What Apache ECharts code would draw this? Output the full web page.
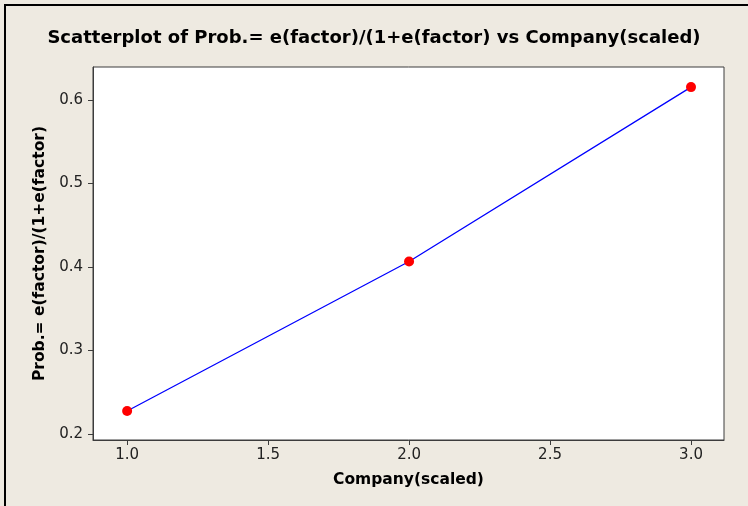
<!DOCTYPE html>
<html>
<head>
<meta charset="utf-8">
<script src="https://cdn.jsdelivr.net/npm/echarts@6/dist/echarts.min.js"></script>
<style>
html,body{margin:0;padding:0;background:#EEEAE1;}
#c{width:748px;height:506px;}
</style>
</head>
<body>
<div id="c"></div>
<script>
const companyScaled = [1.0, 2.0, 3.0];
const probValues = [0.2275, 0.4066, 0.6154];
const xTicks = [1.0, 1.5, 2.0, 2.5, 3.0];
const yTicks = [0.2, 0.3, 0.4, 0.5, 0.6];

const titleText = 'Scatterplot of Prob.= e(factor)/(1+e(factor) vs Company(scaled)';
const xName = 'Company(scaled)';
const yName = 'Prob.= e(factor)/(1+e(factor)';

const chart = echarts.init(document.getElementById('c'), null, {renderer: 'canvas'});
const font = 'DejaVu Sans';
chart.setOption({
  backgroundColor: '#EEEAE1',
  animation: false,
  title: {
    text: titleText, left: 'center', top: 24,
    textStyle: {fontFamily: font, fontWeight: 'bold', fontSize: 18, color: '#000'}
  },
  grid: {
    left: 93, top: 67, right: 24, bottom: 66,
    show: true, backgroundColor: '#fff', borderColor: '#3c3c3c', borderWidth: 1
  },
  xAxis: {
    type: 'value', min: 0.879, max: 3.117,
    name: xName, nameLocation: 'middle', nameGap: 32,
    nameTextStyle: {fontFamily: font, fontWeight: 'bold', fontSize: 15.5, color: '#000'},
    axisLine: {show: true, lineStyle: {color: '#3c3c3c', width: 1}},
    axisTick: {show: true, length: 5, customValues: xTicks, lineStyle: {color: '#3c3c3c'}},
    axisLabel: {customValues: xTicks, margin: 8, fontFamily: font, fontSize: 15, color: '#222',
      formatter: v => v.toFixed(1)},
    splitLine: {show: false}
  },
  yAxis: {
    type: 'value', min: 0.1928, max: 0.6395,
    name: yName, nameLocation: 'middle', nameGap: 43,
    nameTextStyle: {fontFamily: font, fontWeight: 'bold', fontSize: 15.5, color: '#000'},
    axisLine: {show: true, lineStyle: {color: '#3c3c3c', width: 1}},
    axisTick: {show: true, length: 5, customValues: yTicks, lineStyle: {color: '#3c3c3c'}},
    axisLabel: {customValues: yTicks, margin: 10, fontFamily: font, fontSize: 15, color: '#222',
      formatter: v => v.toFixed(1)},
    splitLine: {show: false}
  },
  graphic: [
    {type: 'rect', shape: {x: 4, y: 4, width: 2, height: 502}, style: {fill: '#000'}, z: 100},
    {type: 'rect', shape: {x: 4, y: 4, width: 744, height: 2}, style: {fill: '#000'}, z: 100}
  ],
  series: [{
    type: 'line',
    data: companyScaled.map((x, i) => [x, probValues[i]]),
    symbol: 'circle', symbolSize: 10,
    itemStyle: {color: '#ff0000'},
    lineStyle: {color: '#0000ff', width: 1.3},
    z: 3
  }]
});
</script>
</body>
</html>
